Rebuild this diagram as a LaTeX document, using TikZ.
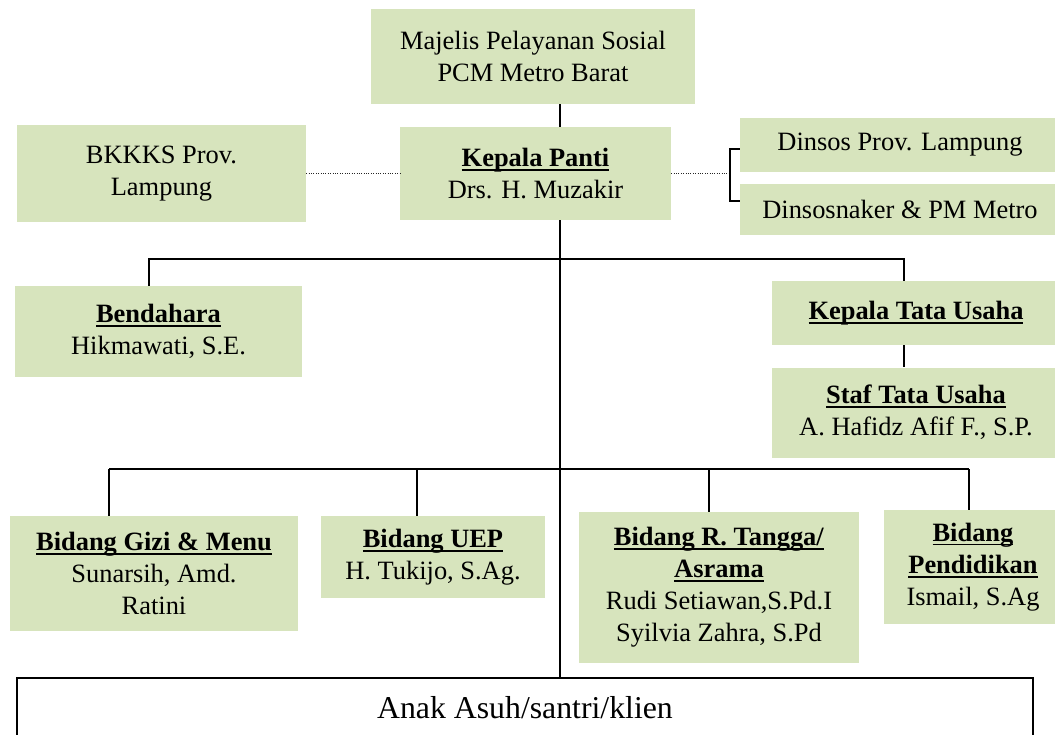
\documentclass[tikz,border=0pt]{standalone}
\usepackage{fontspec}
\setmainfont{Liberation Serif}
\usepackage{xcolor}
\usetikzlibrary{positioning}

\definecolor{olivebox}{RGB}{215,228,189}
\newsavebox\ttlbox
\newcommand{\ttl}[1]{\sbox\ttlbox{\textbf{#1}}\rlap{\rule[-3pt]{\wd\ttlbox}{1.3pt}}\usebox\ttlbox}

\begin{document}
\begin{tikzpicture}[
    x=0.025cm, y=-0.025cm,
    every node/.style={font=\fontsize{18.8}{22.8}\selectfont},
    box/.style={fill=olivebox, inner sep=0pt, text centered, align=center},
    line/.style={line width=0.9pt},
    link/.style={densely dotted, line width=0.7pt, black!85},
]
\path[use as bounding box, clip] (0,0) rectangle (1055,735);

% === TOP ===
\node[box, minimum width=8.1cm, minimum height=2.375cm] (majelis) at (533,56.5) {Majelis Pelayanan Sosial\\PCM Metro Barat};
\node[box, minimum width=6.775cm, minimum height=2.325cm] (kepala) at (535.5,173.5) {\ttl{Kepala Panti}\\Drs. H. Muzakir};
\node[box, minimum width=7.225cm, minimum height=2.4cm] (bkkks) at (161.5,173.5) {BKKKS Prov.\\Lampung};
\node[box, minimum width=8cm, minimum height=1.35cm] (dinsos) at (900,145) {Dinsos Prov. Lampung};
\node[box, minimum width=8cm, minimum height=1.275cm, below=0.275cm of dinsos] (dinsosnaker) {Dinsosnaker \& PM Metro};

\coordinate (spine) at (560,0);
\coordinate (brk) at (730,173.5);

\draw[line] (majelis.south -| spine) -- (kepala.north -| spine);
\draw[link] (bkkks.east) -- (kepala.west);
\draw[link] (kepala.east) -- (brk);
\draw[line] ([yshift=-0.1cm]dinsos.west) -| (brk) |- ([yshift=0.2cm]dinsosnaker.west);

% === STAFF ===
\node[box, minimum width=7.175cm, minimum height=2.275cm] (bendahara) at (158.5,331.5) {\ttl{Bendahara}\\Hikmawati, S.E.};
\node[box, minimum width=7.2cm, minimum height=1.6cm] (ktu) at (916,313) {\ttl{Kepala Tata Usaha}};
\node[box, minimum width=7.2cm, minimum height=2.25cm, below=0.55cm of ktu] (staf) {\ttl{Staf Tata Usaha}\\A. Hafidz Afif F., S.P.};

\coordinate (d1) at (149,259);
\coordinate (d2) at (904,259);

\draw[line] (d1 |- bendahara.north) -- (d1) -- (d2) -- (d2 |- ktu.north);
\draw[line] (ktu.south -| d2) -- (staf.north -| d2);

% === BIDANG ===
\node[box, minimum width=7.2cm, minimum height=2.875cm] (gizi) at (154,573.5) {\ttl{Bidang Gizi \& Menu}\\Sunarsih, Amd.\\Ratini};
\node[box, minimum width=5.6cm, minimum height=2.05cm] (uep) at (433,557) {\ttl{Bidang UEP}\\H. Tukijo, S.Ag.};
\node[box, minimum width=7cm, minimum height=3.775cm] (rtangga) at (719,587.5) {\ttl{Bidang R. Tangga/}\\\ttl{Asrama}\\Rudi Setiawan,S.Pd.I\\Syilvia Zahra, S.Pd};
\node[box, minimum width=4.45cm, minimum height=2.85cm] (pendidikan) at (973,567) {\ttl{Bidang}\\\ttl{Pendidikan}\\Ismail, S.Ag};

\coordinate (e1) at (109,469);
\coordinate (e2) at (417,469);
\coordinate (e3) at (709,469);
\coordinate (e4) at (969,469);

\draw[line] (e1) -- (e4);
\draw[line] (e1) -- (e1 |- gizi.north);
\draw[line] (e2) -- (e2 |- uep.north);
\draw[line] (e3) -- (e3 |- rtangga.north);
\draw[line] (e4) -- (e4 |- pendidikan.north);

% === ANAK ASUH ===
\node[draw, line width=1.2pt, fill=white, inner sep=0pt, minimum width=25.4cm, minimum height=1.5cm,
      font=\fontsize{22.6}{26}\selectfont] (anak) at (525,708) {Anak Asuh/santri/klien};

\draw[line] (kepala.south -| spine) -- (anak.north -| spine);

\end{tikzpicture}
\end{document}
